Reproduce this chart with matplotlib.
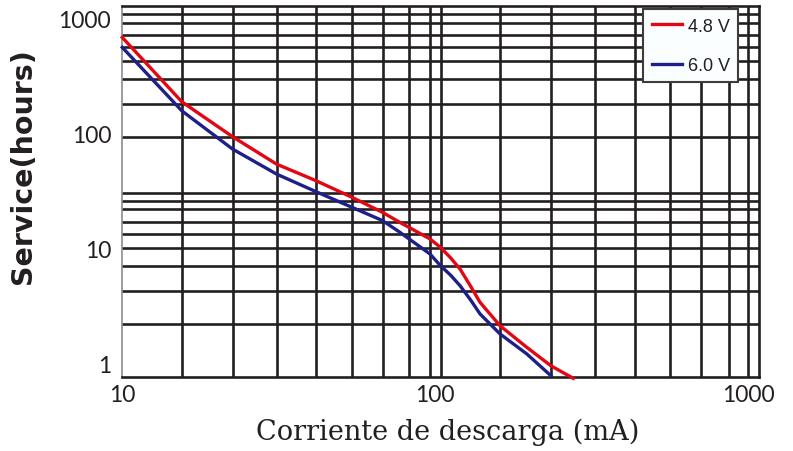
import matplotlib
matplotlib.use('Agg')
import matplotlib.pyplot as plt
from matplotlib.ticker import FixedLocator, NullFormatter

# Discharge current (mA) vs service life (hours)
cur_48 = [10, 15.5, 22.5, 31.1, 41.6, 54.2, 67.9, 77.1, 96.2, 104, 112, 120, 130, 139, 161, 196, 234, 276]
hrs_48 = [679, 187, 93, 53.7, 38.5, 27.6, 20.4, 16.7, 12.0, 10.1, 8.2, 6.56, 4.6, 3.37, 2.11, 1.37, 0.947, 0.736]

cur_60 = [10, 15.5, 22.5, 31.1, 41.6, 54.2, 67.9, 77.1, 96.2, 104, 112, 120, 130, 139, 161, 196, 234]
hrs_60 = [556, 156, 72.6, 44, 30.9, 22.6, 17.3, 13.7, 8.87, 7.0, 5.8, 4.7, 3.5, 2.67, 1.79, 1.2, 0.776]

labels = ['4.8 V', '6.0 V']
colors = ['#e30613', '#1d2088']

# the hand drawn grid of the original chart (irregular spacing)
x_grid = [15.5, 22.5, 31.1, 41.6, 54.2, 67.9, 82.6, 96.2, 104, 161, 234, 324,
          435, 562, 706, 869, 995]
y_grid = [2.18, 4.25, 7.02, 10, 13.2, 16.9, 21.8, 25.8, 30.1, 92.8, 179, 295,
          425, 556, 716, 910, 1084]

x_ticks = [10, 100, 1000]
y_ticks = [1, 10, 100, 1000]

fig = plt.figure(figsize=(7.93, 4.52), dpi=100)
ax = fig.add_axes([0.1542, 0.163, 0.8028, 0.822])

ax.set_xscale('log')
ax.set_yscale('log')
ax.set_xlim(10, 1081)
ax.set_ylim(0.751, 1279)

ax.xaxis.set_minor_locator(FixedLocator(x_grid))
ax.yaxis.set_minor_locator(FixedLocator(y_grid))
ax.xaxis.set_minor_formatter(NullFormatter())
ax.yaxis.set_minor_formatter(NullFormatter())
ax.set_xticks(x_ticks)
ax.set_xticklabels([str(t) for t in x_ticks])
ax.set_yticks(y_ticks)
ax.set_yticklabels([str(t) for t in y_ticks])

ax.grid(False)
for g in x_grid:
    ax.axvline(g, color='#231f20', lw=1.9, zorder=1)
for g in y_grid:
    ax.axhline(g, color='#231f20', lw=1.9, zorder=1)

ax.tick_params(which='both', length=0)
ax.tick_params(axis='x', pad=5)
ax.tick_params(axis='y', pad=8)
for lab in ax.get_xticklabels() + ax.get_yticklabels():
    lab.set_fontfamily('Lato')
    lab.set_fontweight('normal')
    lab.set_fontsize(16.5)
    lab.set_color('#231f20')

for sp in ['top', 'right', 'bottom']:
    ax.spines[sp].set_color('#231f20')
    ax.spines[sp].set_linewidth(1.9)
ax.spines['left'].set_color('#8c8c8c')
ax.spines['left'].set_linewidth(1.2)

ax.plot(cur_48, hrs_48, color=colors[0], lw=2.4, label=labels[0], zorder=3,
        clip_on=False)
ax.plot(cur_60, hrs_60, color=colors[1], lw=2.4, label=labels[1], zorder=3,
        clip_on=False)

# axis titles placed in figure coords like the original
fig.text(0.029, 0.633, 'Service(hours)', rotation=90, ha='center', va='center',
         fontfamily='DejaVu Sans', fontweight='bold', fontsize=20.5,
         color='#231f20')
fig.text(0.565, 0.0265, 'Corriente de descarga (mA)', ha='center',
         va='baseline', fontfamily='DejaVu Serif', fontsize=19.5,
         color='#231f20')

leg = ax.legend(loc='upper right', bbox_to_anchor=(0.967, 0.99),
                prop={'family': 'Liberation Sans', 'size': 13},
                frameon=True, fancybox=False, handlelength=1.7,
                handletextpad=0.3, labelspacing=1.25, borderpad=0.45,
                borderaxespad=0)
leg.get_frame().set_edgecolor('#3c3c3c')
leg.get_frame().set_linewidth(1.5)
leg.get_frame().set_facecolor('#fbfeff')
leg.get_frame().set_alpha(1)
leg.set_zorder(5)
for t in leg.get_texts():
    t.set_color('#231f20')

fig.savefig('out.png', dpi=100)
